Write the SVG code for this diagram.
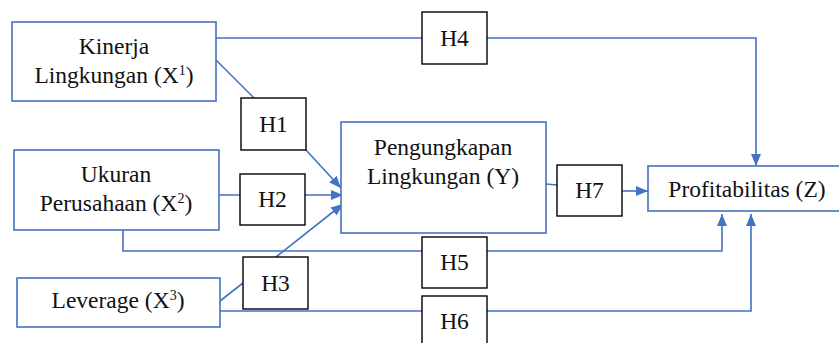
<svg xmlns="http://www.w3.org/2000/svg" width="839" height="343" viewBox="0 0 839 343">
<style>
.var rect{fill:#fff;stroke:#4472C4;stroke-width:1.6}
.hyp rect{fill:#fff;stroke:#000;stroke-width:1.4}
text{font-family:"Liberation Serif",Tinos,"Times New Roman",Times,"DejaVu Serif",serif;font-size:23.5px;fill:#111;text-anchor:middle}
.sup{font-size:14px}
#connectors path{fill:none;stroke:#4472C4;stroke-width:1.6}
</style>
<defs>
<marker id="ah" viewBox="0 0 12 10" refX="12" refY="5" markerWidth="12" markerHeight="10" markerUnits="userSpaceOnUse" orient="auto">
<path d="M0,0 L12,5 L0,10 Z" fill="#4472C4"/>
</marker>
</defs>
<rect width="839" height="343" fill="#fff"/>
<g id="connectors">
<path d="M216,38 H756 V166" marker-end="url(#ah)"/>
<path d="M216,60 L254,98"/>
<path d="M306,150 L341,188" marker-end="url(#ah)"/>
<path d="M219,195 H343" marker-end="url(#ah)"/>
<path d="M220,301 L243,283"/>
<path d="M276,257 L343,204" marker-end="url(#ah)"/>
<path d="M123,230 V251 H722 V214" marker-end="url(#ah)"/>
<path d="M220,311 H751 V214" marker-end="url(#ah)"/>
<path d="M546,184 L557,185"/>
<path d="M622,191 H648" marker-end="url(#ah)"/>
</g>
<g id="kinerja" class="var"><rect x="12" y="22" width="204" height="79"/><text x="114" y="54">Kinerja</text><text x="114" y="83">Lingkungan (X<tspan class="sup" dy="-8">1</tspan><tspan dy="8">)</tspan></text></g>
<g id="ukuran" class="var"><rect x="14" y="150" width="205" height="80"/><text x="116" y="182">Ukuran</text><text x="116" y="211">Perusahaan (X<tspan class="sup" dy="-8">2</tspan><tspan dy="8">)</tspan></text></g>
<g id="leverage" class="var"><rect x="17" y="278" width="203" height="49"/><text x="118" y="308">Leverage (X<tspan class="sup" dy="-8">3</tspan><tspan dy="8">)</tspan></text></g>
<g id="pengungkapan" class="var"><rect x="341" y="122" width="205" height="111"/><text x="443" y="155">Pengungkapan</text><text x="443" y="184">Lingkungan (Y)</text></g>
<g id="profitabilitas" class="var"><rect x="648" y="166" width="200" height="45"/><text x="747" y="197">Profitabilitas (Z)</text></g>
<g id="h1" class="hyp"><rect x="241" y="98" width="65" height="52"/><text x="273.5" y="132">H1</text></g>
<g id="h2" class="hyp"><rect x="240" y="174" width="65" height="51"/><text x="272.5" y="207">H2</text></g>
<g id="h3" class="hyp"><rect x="243" y="257" width="65" height="52"/><text x="275.5" y="291">H3</text></g>
<g id="h4" class="hyp"><rect x="422" y="12" width="65" height="52"/><text x="454.5" y="46">H4</text></g>
<g id="h5" class="hyp"><rect x="422" y="237" width="65" height="51"/><text x="454.5" y="270">H5</text></g>
<g id="h6" class="hyp"><rect x="422" y="296" width="65" height="52"/><text x="454.5" y="329">H6</text></g>
<g id="h7" class="hyp"><rect x="557" y="165" width="65" height="51"/><text x="589.5" y="198">H7</text></g>
</svg>
